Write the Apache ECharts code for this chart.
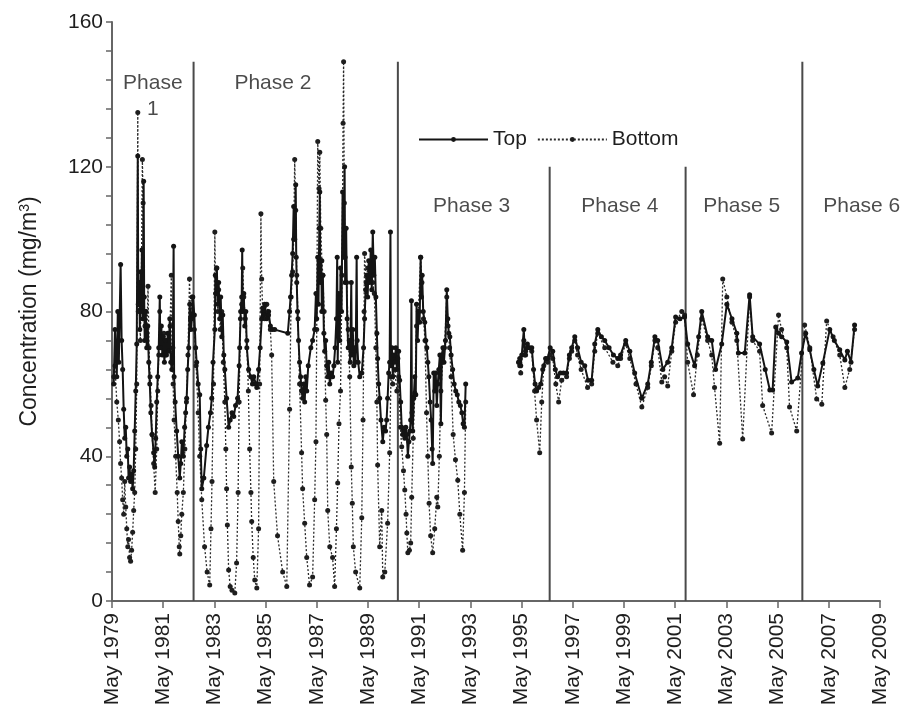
<!DOCTYPE html>
<html><head><meta charset="utf-8">
<script src="https://cdn.jsdelivr.net/npm/echarts@6/dist/echarts.min.js"></script>
<style>html,body{margin:0;padding:0;background:#fff}#c{width:910px;height:727px}</style>
</head><body><div id="c"></div>
<script>
// x axis: decimal years; tick labels every two years from May 1979 to May 2009
const xTickYears = [1979,1981,1983,1985,1987,1989,1991,1993,1995,1997,1999,2001,2003,2005,2007,2009];
const yTickLabels = [0,40,80,120,160];
const phaseBounds = [1982.52, 1990.50, 1996.43, 2001.74, 2006.30];
const phaseLineTops = [149, 149, 120, 120, 149];
const phaseNames = ['Phase\n1','Phase 2','Phase 3','Phase 4','Phase 5','Phase 6'];
const phaseLabelYears = [1980.93, 1985.62, 1993.38, 1999.17, 2003.93, 2008.62];
const phaseLabelValues = [139.5, 143, 109, 109, 109, 109];
const gapYear = 1994.2;

// [decimal year, concentration mg/m3]
const topEarly = [
[1979.40,60],[1979.45,75],[1979.52,62],[1979.56,80],[1979.60,66],[1979.67,93],[1979.71,72],[1979.75,64],[1979.79,53],[1979.83,45],
[1979.87,48],[1979.91,40],[1979.95,42],[1979.98,34],[1980.02,37],[1980.06,33],[1980.10,35],[1980.14,31],[1980.18,36],[1980.22,47],
[1980.26,58],[1980.30,71],[1980.34,123],[1980.36,82],[1980.40,88],[1980.42,75],[1980.45,91],[1980.48,80],[1980.50,97],[1980.53,78],
[1980.57,116],[1980.59,84],[1980.61,72],[1980.65,80],[1980.69,70],[1980.73,76],[1980.77,66],[1980.81,60],[1980.85,52],[1980.90,46],
[1980.96,41],[1981.00,37],[1981.04,45],[1981.08,55],[1981.12,62],[1981.16,70],[1981.20,84],[1981.22,70],[1981.26,76],[1981.30,68],
[1981.34,73],[1981.38,66],[1981.42,72],[1981.46,68],[1981.51,74],[1981.55,69],[1981.59,78],[1981.63,66],[1981.67,64],[1981.71,70],
[1981.74,98],[1981.76,62],[1981.80,55],[1981.86,47],[1981.92,40],[1981.98,34],[1982.02,38],[1982.06,44],[1982.12,40],[1982.17,48],
[1982.21,52],[1982.25,56],[1982.29,64],[1982.33,70],[1982.37,82],[1982.41,75],[1982.45,78],[1982.49,84],
[1982.55,79],[1982.60,70],[1982.64,66],[1982.70,60],[1982.76,57],[1982.80,42],[1982.84,31],[1982.92,34],[1983.03,43],[1983.10,48],
[1983.18,52],[1983.23,56],[1983.28,66],[1983.35,75],[1983.37,90],[1983.40,85],[1983.43,92],[1983.46,82],[1983.50,88],[1983.54,78],
[1983.58,84],[1983.62,73],[1983.66,79],[1983.70,68],[1983.74,64],[1983.81,56],[1983.89,48],[1983.95,50],[1984.02,52],[1984.09,51],
[1984.16,54],[1984.24,56],[1984.30,65],[1984.32,70],[1984.36,80],[1984.40,84],[1984.42,97],[1984.44,80],[1984.48,85],[1984.52,76],
[1984.56,80],[1984.60,70],[1984.67,64],[1984.75,62],[1984.82,60],[1984.87,62],[1984.95,60],[1984.99,59],[1985.06,64],[1985.12,70],
[1985.18,78],[1985.22,81],[1985.26,79],[1985.30,82],[1985.38,78],[1985.45,80],[1985.52,76],[1985.60,75],[1985.69,75],
[1986.20,74],[1986.27,80],[1986.31,84],[1986.35,90],[1986.39,96],[1986.43,109],[1986.47,100],[1986.51,115],[1986.53,95],[1986.55,88],
[1986.58,80],[1986.62,72],[1986.66,66],[1986.70,62],[1986.74,58],[1986.78,56],[1986.82,60],[1986.86,55],[1986.90,62],[1986.94,58],
[1987.00,65],[1987.10,70],[1987.17,72],[1987.25,75],[1987.30,85],[1987.33,78],[1987.37,95],[1987.40,82],[1987.43,103],[1987.45,113],
[1987.47,88],[1987.51,94],[1987.53,80],[1987.57,90],[1987.61,74],[1987.64,69],[1987.68,72],[1987.72,65],[1987.76,62],[1987.80,66],
[1987.84,60],[1987.90,63],[1987.95,62],[1988.00,65],[1988.05,70],[1988.10,78],[1988.13,95],[1988.15,66],[1988.19,85],[1988.23,72],
[1988.26,92],[1988.30,80],[1988.34,113],[1988.38,95],[1988.42,120],[1988.44,88],[1988.48,103],[1988.52,78],[1988.56,70],[1988.60,72],
[1988.64,66],[1988.68,88],[1988.70,68],[1988.74,75],[1988.78,65],[1988.81,70],[1988.85,66],[1988.89,95],[1988.91,72],[1988.95,66],
[1989.01,62],[1989.09,63],[1989.16,70],[1989.20,78],[1989.24,86],[1989.28,90],[1989.32,84],[1989.36,94],[1989.40,88],[1989.44,97],
[1989.48,86],[1989.52,102],[1989.56,90],[1989.60,95],[1989.64,84],[1989.68,74],[1989.71,67],[1989.75,60],[1989.79,56],[1989.84,50],
[1989.91,44],[1989.96,48],[1990.02,47],[1990.06,50],[1990.10,56],[1990.14,63],[1990.18,66],[1990.21,102],[1990.23,65],[1990.27,70],
[1990.30,62],[1990.34,68],[1990.38,66],[1990.42,70],[1990.46,64],[1990.50,67],
[1990.53,69],[1990.57,61],[1990.61,55],[1990.65,48],[1990.69,46],[1990.73,47],[1990.77,45],[1990.81,48],[1990.85,46],[1990.89,40],
[1990.93,44],[1990.97,47],[1991.00,50],[1991.03,83],[1991.05,52],[1991.08,47],[1991.12,56],[1991.16,62],[1991.20,57],[1991.23,82],
[1991.27,72],[1991.31,80],[1991.35,77],[1991.39,95],[1991.42,84],[1991.45,90],[1991.49,80],[1991.55,77],[1991.59,72],[1991.63,70],
[1991.67,66],[1991.71,62],[1991.76,55],[1991.80,50],[1991.84,42],[1991.86,38],[1991.90,63],[1991.94,58],[1991.98,63],[1992.02,54],
[1992.06,60],[1992.10,64],[1992.14,68],[1992.18,49],[1992.22,68],[1992.26,70],[1992.30,66],[1992.36,72],[1992.41,86],[1992.45,78],
[1992.49,74],[1992.53,73],[1992.58,68],[1992.64,64],[1992.70,60],[1992.76,58],[1992.82,57],[1992.88,55],[1992.94,54],[1993.00,52],
[1993.05,49],[1993.10,48],[1993.15,60]
];
const topLate = [
[1995.22,66],[1995.26,67],[1995.30,65],[1995.34,68],[1995.42,75],[1995.46,68],[1995.49,69],[1995.56,71],[1995.64,70],[1995.73,70],
[1995.80,64],[1995.86,60],[1995.92,58],[1996.00,59],[1996.08,60],[1996.16,64],[1996.27,67],[1996.35,67],[1996.45,70],[1996.55,69],
[1996.65,64],[1996.74,62],[1996.85,63],[1996.97,63],[1997.09,63],[1997.20,68],[1997.29,70],[1997.41,73],[1997.52,70],[1997.66,66],
[1997.80,65],[1997.93,61],[1998.07,61],[1998.19,71],[1998.31,75],[1998.45,73],[1998.58,72],[1998.75,70],[1998.92,68],[1999.09,67],
[1999.20,68],[1999.40,72],[1999.56,69],[1999.75,63],[2000.03,56],[2000.26,60],[2000.40,66],[2000.54,73],[2000.65,72],[2000.85,64],
[2001.04,66],[2001.20,70],[2001.35,78.5],[2001.52,78],[2001.70,78.5],[2001.82,71],[2002.09,65],[2002.25,73],[2002.37,80],[2002.60,73],
[2002.76,72],[2002.91,64],[2003.15,71],[2003.35,82],[2003.55,78],[2003.74,74],[2003.80,68.5],[2004.05,68.5],[2004.24,84.6],[2004.36,73],
[2004.63,71],[2004.85,64],[2005.03,58.3],[2005.14,58.3],[2005.26,75.7],[2005.37,74],[2005.49,73],[2005.69,71.6],[2005.88,60.5],[2006.12,61.6],
[2006.27,68.5],[2006.43,74],[2006.59,69.4],[2006.75,64],[2006.90,59.4],[2007.10,65.8],[2007.37,75],[2007.55,72],[2007.76,69.4],[2007.96,66.6],
[2008.06,69],[2008.20,66],[2008.34,76.3]
];
const bottomEarly = [
[1979.40,62],[1979.45,65],[1979.52,55],[1979.58,50],[1979.63,44],[1979.67,38],[1979.71,34],[1979.75,28],[1979.79,24],[1979.83,33],
[1979.87,26],[1979.91,20],[1979.95,15],[1979.98,17],[1980.02,12],[1980.06,11],[1980.10,14],[1980.14,19],[1980.18,25],[1980.22,30],
[1980.26,42],[1980.30,60],[1980.34,135],[1980.36,80],[1980.40,85],[1980.44,72],[1980.48,88],[1980.52,122],[1980.55,110],[1980.58,84],
[1980.62,76],[1980.66,80],[1980.70,74],[1980.74,87],[1980.78,70],[1980.82,62],[1980.86,54],[1980.90,46],[1980.96,38],[1981.02,30],
[1981.08,42],[1981.12,58],[1981.16,68],[1981.20,80],[1981.24,72],[1981.30,70],[1981.36,74],[1981.42,68],[1981.48,72],[1981.54,70],
[1981.60,76],[1981.65,90],[1981.68,66],[1981.72,60],[1981.76,50],[1981.82,40],[1981.88,30],[1981.92,22],[1981.96,15],[1981.98,13],
[1982.02,18],[1982.06,24],[1982.12,30],[1982.18,42],[1982.24,55],[1982.30,68],[1982.36,89],[1982.40,78],[1982.46,84],
[1982.55,75],[1982.62,65],[1982.70,52],[1982.76,40],[1982.84,28],[1982.95,15],[1983.05,8],[1983.15,4.4],[1983.20,20],[1983.24,33],
[1983.30,60],[1983.35,102],[1983.38,85],[1983.42,92],[1983.46,80],[1983.50,86],[1983.56,75],[1983.62,80],[1983.68,66],[1983.74,55],
[1983.78,42],[1983.81,31],[1983.84,21],[1983.89,8.6],[1983.95,4],[1984.02,3],[1984.13,2.2],[1984.20,10.5],[1984.26,30],[1984.30,55],
[1984.35,78],[1984.40,82],[1984.44,92],[1984.48,84],[1984.54,78],[1984.60,72],[1984.66,58],[1984.71,42],[1984.76,30],[1984.79,22],
[1984.85,12],[1984.91,5.8],[1984.99,3.6],[1985.06,20],[1985.10,60],[1985.15,107],[1985.18,89],[1985.22,80],[1985.30,78],[1985.38,82],
[1985.45,79],[1985.52,75],[1985.57,68],[1985.65,33],[1985.80,18],[1986.00,8],[1986.16,4],[1986.27,53],[1986.33,84],[1986.39,91],
[1986.43,100],[1986.47,122],[1986.51,108],[1986.55,90],[1986.60,78],[1986.66,60],[1986.74,41],[1986.78,31],[1986.86,21.5],[1986.94,12],
[1987.05,4.4],[1987.17,6.6],[1987.25,28],[1987.30,44],[1987.33,75],[1987.37,127],[1987.42,114],[1987.45,124],[1987.49,103],[1987.53,94],
[1987.57,90],[1987.62,80],[1987.68,55.5],[1987.72,46],[1987.76,25],[1987.84,15],[1987.95,12],[1988.03,4],[1988.10,20],[1988.15,32.6],
[1988.20,49],[1988.26,58],[1988.32,90],[1988.36,132],[1988.38,149],[1988.41,110],[1988.44,95],[1988.50,88],[1988.56,75],[1988.62,62],
[1988.68,37],[1988.72,27],[1988.76,15],[1988.85,8],[1989.01,3.6],[1989.09,23],[1989.14,50],[1989.18,80],[1989.20,96],[1989.26,88],
[1989.32,92],[1989.40,90],[1989.46,94],[1989.52,88],[1989.58,85],[1989.64,70],[1989.68,55],[1989.71,37.6],[1989.79,15],[1989.87,25],
[1989.91,6.6],[1989.99,8],[1990.10,21.5],[1990.18,41],[1990.23,62],[1990.30,60],[1990.38,64],[1990.46,58],
[1990.53,62],[1990.60,48],[1990.65,42.6],[1990.72,36],[1990.77,30.7],[1990.82,24],[1990.85,18.8],[1990.89,13.3],[1990.95,14],[1991.00,16],
[1991.04,28.7],[1991.10,45],[1991.16,57.5],[1991.23,76],[1991.30,80],[1991.39,95],[1991.44,88],[1991.50,78],[1991.56,72],[1991.62,52],
[1991.67,40],[1991.72,27],[1991.78,18],[1991.86,13.3],[1991.94,20],[1992.02,28.7],[1992.06,26],[1992.12,40],[1992.18,58],[1992.25,66],
[1992.32,70],[1992.41,84],[1992.46,76],[1992.52,70],[1992.58,62],[1992.66,46],[1992.75,39],[1992.84,33.4],[1992.92,24],[1993.03,14],
[1993.10,30],[1993.15,55]
];
const bottomLate = [
[1995.22,66],[1995.26,65],[1995.30,63],[1995.42,72],[1995.49,68],[1995.56,70],[1995.73,69],[1995.84,58],[1995.92,50],[1996.04,41],
[1996.12,55],[1996.20,65],[1996.35,66],[1996.45,68],[1996.55,67],[1996.67,60],[1996.78,55],[1996.90,61],[1997.09,62],[1997.20,67],
[1997.29,69],[1997.41,72],[1997.52,68],[1997.66,64],[1997.91,59],[1998.07,60],[1998.19,69],[1998.31,74],[1998.58,70],[1998.90,66],
[1999.09,65],[1999.20,67],[1999.40,71],[1999.56,67],[1999.80,60],[2000.03,53.6],[2000.26,59],[2000.40,65],[2000.54,72],[2000.65,70],
[2000.81,60.5],[2000.92,62],[2001.04,59.4],[2001.20,69],[2001.35,77],[2001.59,80],[2001.70,79],[2001.82,66],[2002.05,57],[2002.20,68],
[2002.37,78],[2002.60,72],[2002.76,68],[2002.87,59],[2003.07,43.6],[2003.19,89],[2003.35,84],[2003.55,77],[2003.74,72],[2003.97,44.8],
[2004.24,84],[2004.36,72],[2004.63,69],[2004.75,54],[2005.10,46.4],[2005.37,79],[2005.49,75],[2005.69,70],[2005.80,53.6],[2006.08,47],
[2006.39,76.3],[2006.59,70],[2006.86,55.8],[2007.06,54.4],[2007.25,77.4],[2007.50,73],[2007.76,68],[2007.96,59],[2008.15,64],[2008.34,75]
];

const START = 1979 + 4/12; // May 1979
const toM = y => (y - START) * 12; // months since May 1979
const conv = arr => arr.map(p => [toM(p[0]), p[1]]);
const withGap = (a, b) => conv(a).concat([[toM(gapYear), '-']], conv(b));

const FONT = "'Liberation Sans', Arial, sans-serif";
const TXT = '#1e1e1e';

const series = [
  {
    name: 'Top', type: 'line', data: withGap(topEarly, topLate), connectNulls: false,
    symbol: 'circle', symbolSize: 5, showSymbol: true,
    lineStyle: { color: '#141414', width: 2, type: 'solid' },
    itemStyle: { color: '#141414' }, z: 4, animation: false
  },
  {
    name: 'Bottom', type: 'line', data: withGap(bottomEarly, bottomLate), connectNulls: false,
    symbol: 'circle', symbolSize: 5, showSymbol: true,
    lineStyle: { color: '#2a2a2a', width: 1.3, type: [2, 2] },
    itemStyle: { color: '#1e1e1e' }, z: 3, animation: false
  }
];
phaseBounds.forEach((b, i) => {
  series.push({
    name: 'phase' + i, type: 'line', data: [[toM(b), 0], [toM(b), phaseLineTops[i]]],
    symbol: 'none', silent: true, animation: false,
    lineStyle: { color: '#4a4a4a', width: 2 }, z: 2
  });
});
series.push({
  name: 'labels', type: 'scatter', symbolSize: 0, silent: true, animation: false,
  data: phaseLabelYears.map((y, i) => [toM(y), phaseLabelValues[i]]),
  label: {
    show: true, position: 'inside', formatter: p => phaseNames[p.dataIndex],
    fontFamily: FONT, fontSize: 21, color: TXT, lineHeight: 26, align: 'center'
  }
});

const chart = echarts.init(document.getElementById('c'), null, { renderer: 'canvas' });
chart.setOption({
  backgroundColor: '#fff',
  animation: false,
  grid: { left: 112, right: 30, top: 22, bottom: 126, containLabel: false },
  legend: {
    data: ['Top', 'Bottom'], left: 413, top: 124, itemWidth: 69, itemHeight: 6, itemGap: 10,
    textStyle: { fontFamily: FONT, fontSize: 21, color: TXT, padding: [0, 0, 0, 0] }
  },
  xAxis: {
    type: 'value', min: 0, max: toM(xTickYears[xTickYears.length - 1] + 4/12), interval: 24,
    axisLine: { lineStyle: { color: '#666', width: 2 } },
    axisTick: { show: true, length: 7, lineStyle: { color: '#666', width: 1.5 } },
    splitLine: { show: false },
    axisLabel: {
      rotate: 90, margin: 12, fontFamily: FONT, fontSize: 21, color: TXT,
      formatter: v => 'May ' + xTickYears[Math.round(v / 24)]
    }
  },
  yAxis: {
    type: 'value', min: 0, max: 160, interval: 8,
    name: '{a|Concentration (mg/m}{s|3}{a|)}', nameLocation: 'middle', nameRotate: 90, nameGap: 70,
    nameTextStyle: {
      rich: {
        a: { fontFamily: FONT, fontSize: 23, color: TXT },
        s: { fontFamily: FONT, fontSize: 14, color: TXT, verticalAlign: 'top', padding: [0, 0, 10, 0] }
      }
    },
    axisLine: { show: true, lineStyle: { color: '#666', width: 2 } },
    axisTick: { show: true, length: 6, lineStyle: { color: '#666', width: 1.5 } },
    splitLine: { show: false },
    axisLabel: {
      margin: 9, fontFamily: FONT, fontSize: 21, color: TXT,
      formatter: v => (yTickLabels.indexOf(v) >= 0 ? String(v) : '')
    }
  },
  series: series
});
</script></body></html>
